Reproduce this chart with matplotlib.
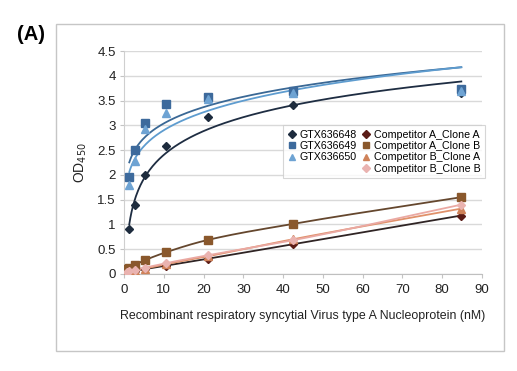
import numpy as np
import matplotlib
matplotlib.use("Agg")
import matplotlib.pyplot as plt
from matplotlib.patches import Rectangle
from matplotlib.lines import Line2D

plt.rcParams['font.family'] = ['Liberation Sans', 'DejaVu Sans']

# ---------------- data ----------------
x_gtx = [1.33, 2.65, 5.3, 10.6, 21.2, 42.4, 84.8]
gtx636648 = [0.91, 1.40, 1.99, 2.58, 3.16, 3.41, 3.66]
gtx636649 = [1.96, 2.51, 3.04, 3.43, 3.58, 3.70, 3.74]
gtx636650 = [1.80, 2.28, 2.92, 3.24, 3.53, 3.66, 3.70]

x_comp = [0.66, 1.33, 2.65, 5.3, 10.6, 21.2, 42.4, 84.8]
compA_cloneA = [0.04, 0.05, 0.07, 0.10, 0.17, 0.31, 0.60, 1.18]
compA_cloneB = [0.10, 0.12, 0.18, 0.28, 0.44, 0.69, 1.01, 1.55]
compB_cloneA = [0.03, 0.05, 0.07, 0.11, 0.20, 0.36, 0.70, 1.32]
compB_cloneB = [0.05, 0.07, 0.09, 0.13, 0.22, 0.38, 0.68, 1.40]

labels_gtx = ['GTX636648', 'GTX636649', 'GTX636650']
labels_comp = ['Competitor A_Clone A', 'Competitor A_Clone B',
               'Competitor B_Clone A', 'Competitor B_Clone B']

x_ticks = [0, 10, 20, 30, 40, 50, 60, 70, 80, 90]
y_ticks = [0, 0.5, 1, 1.5, 2, 2.5, 3, 3.5, 4, 4.5]


def log_fit(x, y):
    x = np.asarray(x, float); y = np.asarray(y, float)
    b, a = np.polyfit(np.log(x), y, 1)
    xs = np.linspace(x.min(), x.max(), 300)
    return xs, a + b * np.log(xs)


def power_fit(x, y):
    x = np.asarray(x, float); y = np.asarray(y, float)
    b, a = np.polyfit(np.log(x), np.log(y), 1)
    xs = np.linspace(x.min(), x.max(), 300)
    return xs, np.exp(a) * xs ** b


def smooth(x, y):
    # monotone cubic (Fritsch-Carlson) through the points
    x = np.asarray(x, float); y = np.asarray(y, float)
    h = np.diff(x); d = np.diff(y) / h
    m = np.zeros_like(y)
    m[0], m[-1] = d[0], d[-1]
    for i in range(1, len(x) - 1):
        if d[i - 1] * d[i] > 0:
            w1 = 2 * h[i] + h[i - 1]; w2 = h[i] + 2 * h[i - 1]
            m[i] = (w1 + w2) / (w1 / d[i - 1] + w2 / d[i])
    xs_all, ys_all = [], []
    for i in range(len(x) - 1):
        t = np.linspace(0, 1, 40)
        h00 = 2 * t**3 - 3 * t**2 + 1; h10 = t**3 - 2 * t**2 + t
        h01 = -2 * t**3 + 3 * t**2; h11 = t**3 - t**2
        xs_all.append(x[i] + t * h[i])
        ys_all.append(h00 * y[i] + h10 * h[i] * m[i] + h01 * y[i + 1] + h11 * h[i] * m[i + 1])
    return np.concatenate(xs_all), np.concatenate(ys_all)


fig = plt.figure(figsize=(5.17, 3.71), dpi=100)
fig.patch.set_facecolor('white')

# outer chart frame
fig.patches.append(Rectangle((56 / 517, 1 - 351 / 371), 448 / 517, 327 / 371,
                             transform=fig.transFigure, fill=False,
                             edgecolor='#c6c6c6', linewidth=1.0, zorder=0))
fig.text(31 / 517, 1 - 35 / 371, '(A)', fontsize=14.5, fontweight='bold',
         ha='center', va='center', family=['Liberation Sans', 'DejaVu Sans'])

ax = fig.add_axes([124 / 517, 1 - 274 / 371, 358 / 517, 223 / 371])

gtx_series = [gtx636648, gtx636649, gtx636650]
gtx_mk = ['D', 's', '^']
gtx_mcol = ['#1d2b3d', '#3d6a9c', '#6ea3d3']
gtx_lcol = ['#1e2d42', '#3a6895', '#5e9ccf']
gtx_ms = [4.5, 5.5, 5.5]
fits = [log_fit, power_fit, power_fit]

handles = []
for ys, mk, mc, lc, ms, f, lab in zip(gtx_series, gtx_mk, gtx_mcol, gtx_lcol, gtx_ms, fits, labels_gtx):
    fx, fy = f(x_gtx, ys)
    ax.plot(fx, fy, color=lc, lw=1.3, zorder=3)
    ax.plot(x_gtx, ys, linestyle='none', marker=mk, color=mc, ms=ms, zorder=4)
    handles.append(Line2D([], [], linestyle='none', marker=mk, color=mc, ms=ms - 0.5, label=lab))

comp_series = [compA_cloneA, compA_cloneB, compB_cloneA, compB_cloneB]
comp_mk = ['D', 's', '^', 'D']
comp_mcol = ['#5b1c16', '#8a582c', '#cf8259', '#eab3b0']
comp_lcol = ['#2f2424', '#65472e', '#e0916a', '#eaa9a3']
comp_ms = [4.5, 5.5, 5.5, 4.5]

comp_handles = []
for ys, mk, mc, lc, ms, lab in zip(comp_series, comp_mk, comp_mcol, comp_lcol, comp_ms, labels_comp):
    sx, sy = smooth(x_comp, ys)
    ax.plot(sx, sy, color=lc, lw=1.3, zorder=3)
    ax.plot(x_comp, ys, linestyle='none', marker=mk, color=mc, ms=ms, zorder=4)
    comp_handles.append(Line2D([], [], linestyle='none', marker=mk, color=mc, ms=ms - 0.5, label=lab))

blank = Line2D([], [], linestyle='none', marker=None, label=' ')
leg = ax.legend(handles=handles + [blank] + comp_handles, ncol=2, loc='upper left',
                bbox_to_anchor=((283 - 124) / 358, (274 - 125) / 223),
                fontsize=7.7, frameon=True, fancybox=False, edgecolor='#cccccc',
                handlelength=0.8, handletextpad=0.3, columnspacing=0.5,
                labelspacing=0.12, borderpad=0.45, borderaxespad=0)
leg.get_frame().set_linewidth(0.8)

ax.set_xlim(0, 90)
ax.set_ylim(0, 4.5)
ax.set_xticks(x_ticks)
ax.set_yticks(y_ticks)
ax.set_yticklabels([('%g' % v) for v in y_ticks])
ax.grid(axis='y', color='#d9d9d9', lw=1.0)
ax.set_axisbelow(True)
for s in ['top', 'right']:
    ax.spines[s].set_visible(False)
ax.spines['left'].set_color('#cfcfcf')
ax.spines['bottom'].set_color('#bfbfbf')
ax.tick_params(axis='both', labelsize=9.5, colors='#222222', length=3, width=0.8)
ax.tick_params(axis='both', color='#c4c4c4')
ax.tick_params(axis='x', pad=4)
ax.tick_params(axis='y', pad=3)

ax.set_xlabel('Recombinant respiratory syncytial Virus type A Nucleoprotein (nM)',
              fontsize=8.9, color='#222222', labelpad=10)
ax.set_ylabel('OD$_{450}$', fontsize=10, color='#222222', labelpad=6)

fig.savefig('out.png', dpi=100, facecolor='white')
